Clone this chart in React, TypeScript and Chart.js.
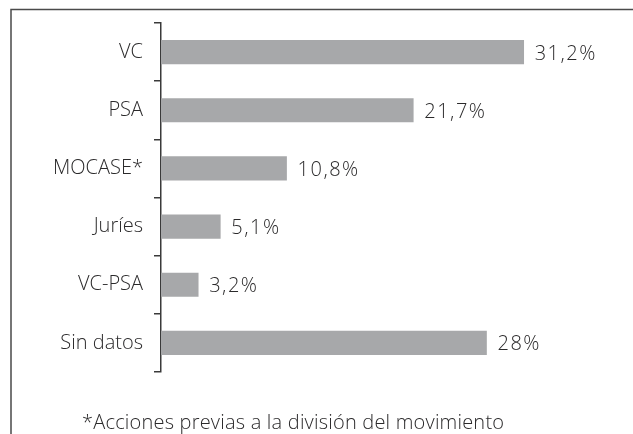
import React, { useEffect, useRef } from "react";
import { Chart, registerables } from "chart.js";

Chart.register(...registerables);

const categories = ["VC", "PSA", "MOCASE*", "Juríes", "VC-PSA", "Sin datos"];
const values = [31.2, 21.7, 10.8, 5.1, 3.2, 28];
const valueLabels = ["31,2%", "21,7%", "10,8%", "5,1%", "3,2%", "28%"];
const footnote = "*Acciones previas a la división del movimiento";

const FONT = '"Open Sans", "DejaVu Sans", sans-serif';
const TEXT = "#2b2a2b";
const LINE = "#3a3a3a";
const BAR = "#a7a8aa";

export default function App() {
  const ref = useRef<HTMLCanvasElement | null>(null);

  useEffect(() => {
    if (!ref.current) return;

    const framePlugin = {
      id: "frame",
      beforeDraw(chart: any) {
        const ctx = chart.ctx;
        ctx.save();
        ctx.fillStyle = "#ffffff";
        ctx.fillRect(0, 0, chart.width, chart.height);
        ctx.strokeStyle = "#4a4a4a";
        ctx.lineWidth = 1.5;
        ctx.beginPath();
        ctx.moveTo(11, chart.height);
        ctx.lineTo(11, 9.5);
        ctx.lineTo(chart.width, 9.5);
        ctx.stroke();
        ctx.restore();
      },
    };

    const labelPlugin = {
      id: "valueLabels",
      afterDatasetsDraw(chart: any) {
        const ctx = chart.ctx;
        const meta = chart.getDatasetMeta(0);
        ctx.save();
        ctx.font = `300 20px ${FONT}`;
        ctx.fillStyle = TEXT;
        ctx.textAlign = "left";
        ctx.textBaseline = "alphabetic";
        (ctx as any).letterSpacing = "1.5px";
        meta.data.forEach((bar: any, i: number) => {
          ctx.fillText(valueLabels[i], bar.x + 11, bar.y + 7.5);
        });
        (ctx as any).letterSpacing = "0.2px";
        ctx.fillText(footnote, 82, 429);
        ctx.restore();
      },
    };

    const chart = new Chart(ref.current, {
      type: "bar",
      data: {
        labels: categories,
        datasets: [
          {
            data: values,
            backgroundColor: BAR,
            borderWidth: 0,
            barThickness: 23.5,
          },
        ],
      },
      options: {
        indexAxis: "y",
        animation: false,
        responsive: false,
        maintainAspectRatio: false,
        layout: { padding: { left: 0, right: 7, top: 18, bottom: 62 } },
        plugins: {
          legend: { display: false },
          tooltip: { enabled: false },
          title: { display: false },
        },
        scales: {
          x: {
            display: false,
            min: 0,
            max: 40,
          },
          y: {
            afterFit(scale: any) {
              scale.width = 161;
            },
            grid: {
              display: true,
              drawOnChartArea: false,
              drawTicks: true,
              tickLength: 7,
              offset: true,
              color: LINE,
              lineWidth: 1.5,
            },
            border: { display: true, color: LINE, width: 1.5 },
            ticks: {
              color: TEXT,
              padding: 11,
              font: { family: FONT, size: 20, weight: "300" },
            },
          },
        },
      },
      plugins: [framePlugin, labelPlugin],
    } as any);

    return () => chart.destroy();
  }, []);

  return (
    <div style={{ position: "fixed", left: 0, top: 0, width: 633, height: 434, background: "#fff" }}>
      <canvas ref={ref} width={633} height={434} style={{ display: "block", width: 633, height: 434 }} />
    </div>
  );
}
